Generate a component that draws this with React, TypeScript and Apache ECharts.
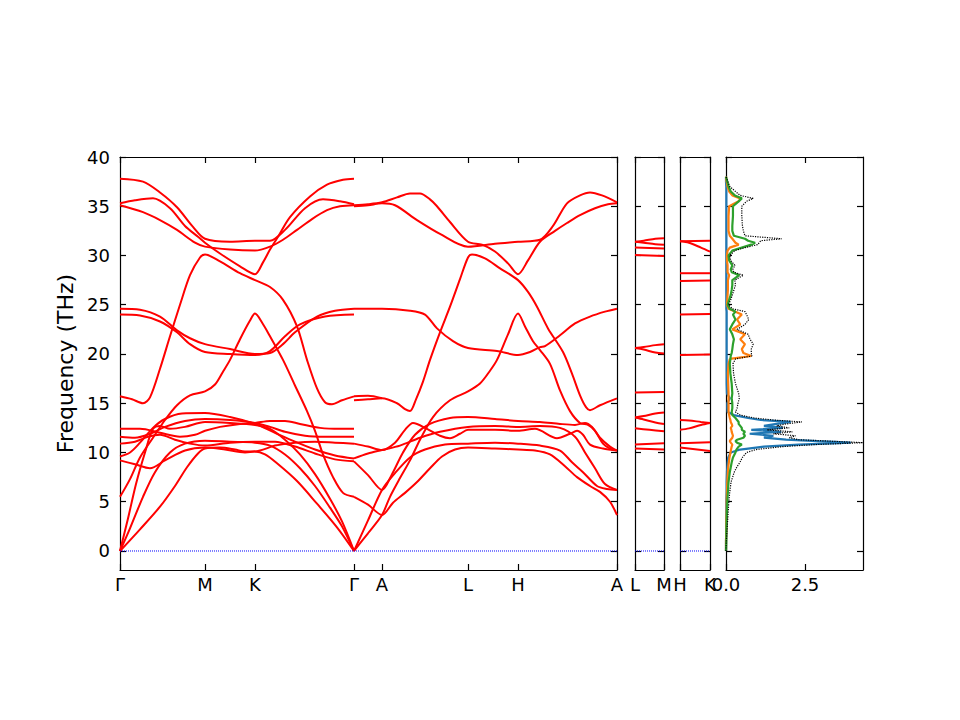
import React, { useEffect, useRef } from "react";
import * as echarts from "echarts";

// ---- tick positions / labels ----
const mainTickPos = [0, 85, 135, 234, 262, 348, 398, 497];
const mainTickLabels = ["Γ", "M", "K", "Γ", "A", "L", "H", "A"];
const lmTickPos = [0, 1];
const lmTickLabels = ["L", "M"];
const hkTickPos = [0, 1];
const hkTickLabels = ["H", "K"];
const freqTicks = [0, 5, 10, 15, 20, 25, 30, 35, 40];
const dosTicks = [0, 2.5];

// ---- bands: Γ-M-K-Γ (k = 0..234) ----
const bandsGMKG: number[][][] = [
  [[0,37.8],[23,37.5],[40,36.4],[57,34.9],[73,32.9],[85,31.7],[110,31.4],[135,31.5],[150,31.5],[165,32.6],[185,34.8],[203,35.7],[220,35.5],[234,35.2]],
  [[0,35.3],[15,35.6],[33,35.8],[50,34.8],[65,33.0],[78,31.9],[85,31.3],[100,30.2],[120,28.9],[135,28.1],[143,29.3],[150,30.6],[158,31.9],[170,33.9],[190,36.0],[207,37.2],[223,37.7],[234,37.8]],
  [[0,35.1],[23,34.4],[40,33.6],[57,32.6],[75,31.3],[85,30.9],[110,30.6],[135,30.5],[150,30.9],[163,31.6],[177,32.6],[192,33.7],[207,34.6],[220,35.0],[234,35.1]],
  [[0,24.6],[20,24.5],[40,23.8],[57,22.4],[70,21.6],[85,21.0],[110,20.5],[135,20.0],[150,20.1],[163,21.0],[175,22.2],[197,23.8],[215,24.4],[234,24.6]],
  [[0,24.0],[20,23.9],[40,23.3],[57,22.2],[70,21.0],[85,20.2],[110,20.0],[135,19.9],[150,20.3],[165,21.8],[180,23.0],[205,23.8],[234,24.0]],
  [[0,15.7],[12,15.4],[23,15.0],[30,15.6],[40,18.5],[50,21.8],[60,25.0],[70,28.0],[80,29.8],[85,30.1],[100,29.4],[120,28.2],[135,27.5],[150,26.8],[163,25.5],[177,22.8],[187,19.4],[197,16.5],[205,15.1],[212,14.9],[222,15.3],[234,15.7]],
  [[0,5.5],[10,7.3],[20,9.5],[33,11.5],[45,13.3],[57,14.8],[70,15.8],[85,16.2],[95,16.9],[103,18.2],[110,19.4],[120,21.5],[130,23.4],[135,24.1],[142,23.2],[150,21.8],[163,19.4],[175,16.8],[187,14.2],[195,12.2],[203,9.8],[213,7.5],[223,5.9],[234,5.5]],
  [[0,12.4],[20,12.4],[40,12.0],[60,11.6],[75,11.8],[85,12.2],[100,12.6],[120,12.9],[135,13.0],[150,13.2],[165,13.2],[180,12.9],[200,12.5],[220,12.4],[234,12.4]],
  [[0,11.6],[15,11.5],[30,11.9],[45,12.6],[65,13.2],[85,13.4],[110,13.3],[135,13.0],[150,12.6],[165,12.1],[185,11.7],[205,11.6],[234,11.6]],
  [[0,9.6],[10,10.0],[20,11.0],[33,12.5],[45,13.4],[62,13.95],[85,14.0],[110,13.6],[135,12.9],[155,12.0],[175,11.1],[195,10.3],[215,9.7],[234,9.4]],
  [[0,10.9],[15,11.1],[28,11.6],[40,11.8],[55,11.3],[70,10.9],[85,10.7],[110,11.0],[135,11.1],[155,11.1],[175,10.6],[195,9.9],[215,9.3],[234,9.1]],
  [[0,9.2],[15,8.8],[30,8.4],[45,9.2],[65,10.2],[85,10.5],[105,10.3],[125,10.0],[140,10.2],[155,10.7],[175,11.0],[195,11.1],[215,11.0],[234,10.9]],
  [[0,0],[20,2.2],[40,4.5],[55,6.6],[67,8.5],[78,9.9],[85,10.4],[100,10.5],[115,10.3],[125,10.1],[135,10.1],[145,9.8],[157,8.9],[177,7.1],[197,4.8],[217,2.4],[234,0]],
  [[0,0],[10,2.3],[23,5.5],[35,8.0],[50,10.0],[65,10.9],[85,11.2],[110,11.1],[135,11.0],[150,10.7],[165,9.8],[180,8.4],[195,6.6],[210,4.4],[222,2.5],[234,0]],
  [[0,0],[8,3.3],[16,6.8],[25,10.0],[33,12.4],[40,12.7],[50,12.4],[65,12.6],[85,13.1],[110,13.0],[135,12.8],[150,12.4],[165,11.3],[180,9.8],[195,7.8],[210,5.3],[222,3.0],[234,0]],
];

// ---- bands: Γ-A-L-H-A (k = 234..497) ----
const bandsGALHA: number[][][] = [
  [[234,35.1],[248,35.2],[262,35.4],[277,35.9],[290,36.3],[300,36.3],[310,35.7],[317,35.0],[330,33.4],[348,31.4],[362,31.1],[375,30.4],[388,29.2],[398,28.1],[408,29.5],[420,31.4],[435,32.5],[447,33.3],[460,34.1],[475,34.8],[488,35.2],[497,35.3]],
  [[234,35.0],[248,35.1],[262,35.3],[275,35.1],[297,33.6],[320,32.2],[348,30.9],[375,31.2],[398,31.4],[420,31.6],[433,33.0],[447,35.3],[460,36.1],[470,36.4],[482,36.1],[497,35.4]],
  [[234,24.6],[262,24.6],[290,24.4],[305,24.0],[317,22.6],[333,21.3],[348,20.6],[377,20.3],[398,19.9],[410,20.2],[420,20.7],[425,20.8],[440,21.9],[455,23.1],[470,23.8],[485,24.3],[497,24.6]],
  [[234,15.3],[248,15.4],[262,15.5],[277,15.0],[285,14.4],[290,14.2],[296,15.4],[303,17.2],[310,19.4],[320,22.2],[330,24.8],[340,27.6],[348,29.8],[352,30.1],[365,29.7],[380,28.7],[398,27.5],[408,26.3],[417,24.8],[428,22.6],[443,20.2],[452,18.0],[460,15.8],[466,14.6],[470,14.3],[480,14.8],[497,15.5]],
  [[234,15.7],[248,15.75],[262,15.5]],
  [[234,0],[248,1.8],[262,3.65],[270,5.5],[280,7.4],[290,9.2],[300,11.3],[313,13.6],[330,15.3],[348,16.2],[360,17.0],[370,18.3],[377,19.4],[388,22.0],[398,24.1],[405,22.8],[413,21.3],[420,20.4],[430,19.0],[440,16.3],[450,14.2],[460,13.0],[468,12.8],[475,12.2],[483,10.9],[490,10.4],[497,10.2]],
  [[234,5.5],[248,4.7],[262,3.65],[273,4.9],[285,5.9],[297,7.0],[310,8.4],[322,9.6],[335,10.3],[348,10.5],[375,10.4],[398,10.3],[415,10.2],[430,9.8],[445,8.6],[457,7.5],[470,6.6],[480,6.0],[490,5.0],[497,3.65]],
  [[234,0],[248,3.1],[262,6.2],[275,7.9],[290,9.5],[305,10.3],[325,10.8],[348,10.9],[375,11.0],[398,10.9],[420,10.7],[440,10.2],[452,9.0],[463,8.0],[477,6.6],[487,6.3],[497,6.2]],
  [[234,9.1],[248,7.7],[262,6.2],[272,7.8],[283,10.0],[295,11.8],[310,12.9],[330,13.5],[348,13.6],[375,13.4],[398,13.2],[420,13.1],[440,12.9],[455,12.8],[465,13.0],[472,12.6],[480,11.5],[490,10.6],[497,10.2]],
  [[234,10.9],[248,10.6],[262,10.25],[275,11.0],[285,12.3],[293,13.0],[307,12.4],[320,11.7],[330,11.45],[340,11.9],[348,12.3],[375,12.3],[398,12.2],[415,12.4],[437,11.45],[450,11.9],[457,12.2],[463,11.8],[470,10.8],[483,10.4],[497,10.2]],
  [[234,9.4],[248,9.9],[262,10.25],[280,10.7],[300,11.5],[320,12.1],[348,12.6],[375,12.7],[398,12.6],[420,12.7],[440,12.5],[455,11.6],[465,10.0],[475,8.4],[485,6.8],[497,6.2]],
];

// ---- bands: L-M (0..1) ----
const bandsLM: number[][][] = [
  [[0,31.4],[0.3,31.5],[0.7,31.7],[1,31.75]],
  [[0,31.4],[0.3,31.3],[0.7,31.15],[1,31.1]],
  [[0,30.8],[1,30.7]],
  [[0,30.05],[1,29.95]],
  [[0,20.6],[0.3,20.7],[0.7,20.9],[1,21.0]],
  [[0,20.6],[0.3,20.45],[0.7,20.15],[1,20.05]],
  [[0,16.1],[1,16.15]],
  [[0,13.55],[0.3,13.7],[0.7,13.95],[1,14.05]],
  [[0,13.55],[0.3,13.35],[0.7,13.05],[1,12.9]],
  [[0,12.45],[0.5,12.3],[1,12.15]],
  [[0,10.8],[1,10.95]],
  [[0,10.4],[1,10.3]],
];

// ---- bands: H-K (0..1) ----
const bandsHK: number[][][] = [
  [[0,31.45],[1,31.5]],
  [[0,31.45],[0.3,31.3],[0.7,30.8],[1,30.4]],
  [[0,28.2],[1,28.2]],
  [[0,27.4],[1,27.45]],
  [[0,24.0],[1,24.05]],
  [[0,19.9],[1,19.95]],
  [[0,13.3],[0.3,13.25],[0.7,13.1],[1,13.0]],
  [[0,12.3],[0.3,12.45],[0.7,12.8],[1,13.0]],
  [[0,10.95],[1,11.05]],
  [[0,10.5],[1,10.15]],
];

// ---- phonon DOS ----
const dosFreq = [0,1,2,3,4,5,6,7,8,8.5,9,9.5,10,10.3,10.6,10.8,11,11.15,11.3,11.5,11.7,11.9,12.1,12.3,12.5,12.7,12.9,13.1,13.3,13.5,13.8,14.1,14.5,15,15.5,16,17,18,19,19.5,19.8,20.1,20.5,21,21.5,22,22.5,23,23.5,24,24.3,24.6,25,25.5,26,26.5,27,27.5,28,28.3,28.6,29,29.5,30,30.5,30.8,31.1,31.3,31.5,31.7,32,32.5,33,34,35,35.5,35.8,36.1,36.5,37,37.5,38];
const dosTotal = [0,0.01,0.03,0.05,0.07,0.09,0.12,0.16,0.26,0.34,0.44,0.52,0.65,0.95,1.8,2.8,4.33,3.3,2.3,2.0,2.2,1.5,2.1,1.3,2.0,1.6,1.9,2.4,1.5,0.9,0.45,0.3,0.35,0.38,0.42,0.4,0.3,0.24,0.22,0.3,0.82,0.8,0.8,0.86,0.76,0.7,0.35,0.6,0.72,0.65,0.6,0.2,0.08,0.15,0.2,0.25,0.3,0.28,0.55,0.25,0.22,0.28,0.15,0.12,0.28,0.6,1.0,1.05,1.1,1.76,0.6,0.55,0.52,0.5,0.5,0.65,0.86,0.45,0.3,0.12,0.06,0];
const dosBlue = [0,0,0.01,0.01,0.01,0.01,0.02,0.02,0.03,0.04,0.05,0.07,0.15,0.45,1.2,2.3,3.95,2.9,1.9,1.2,1.5,0.75,1.75,0.8,1.8,1.2,1.6,2.05,1.1,0.7,0.25,0.05,0.04,0.04,0.12,0.03,0.02,0.02,0.02,0.02,0.02,0.02,0.02,0.02,0.02,0.02,0.02,0.02,0.02,0.02,0.02,0.01,0.01,0.01,0.01,0.01,0.01,0.01,0.01,0.01,0.01,0.01,0.01,0.01,0.01,0.01,0.01,0.01,0.01,0.01,0.01,0.01,0.01,0.01,0.01,0.01,0.01,0.01,0.01,0.01,0,0];
const dosOrange = [0,0,0.01,0.01,0.02,0.02,0.03,0.04,0.06,0.07,0.09,0.11,0.14,0.16,0.18,0.2,0.15,0.12,0.15,0.2,0.22,0.2,0.18,0.17,0.15,0.2,0.18,0.15,0.14,0.12,0.1,0.08,0.08,0.08,0.08,0.08,0.07,0.06,0.08,0.12,0.8,0.55,0.5,0.6,0.45,0.6,0.2,0.45,0.35,0.5,0.3,0.08,0.03,0.04,0.05,0.06,0.06,0.06,0.1,0.05,0.05,0.05,0.03,0.03,0.05,0.12,0.4,0.3,0.25,0.2,0.12,0.08,0.08,0.08,0.1,0.4,0.45,0.2,0.1,0.05,0.02,0];
const dosGreen = [0,0.01,0.01,0.02,0.03,0.04,0.06,0.08,0.12,0.15,0.18,0.22,0.3,0.33,0.4,0.5,0.35,0.3,0.35,0.55,0.6,0.55,0.6,0.5,0.5,0.45,0.4,0.4,0.35,0.3,0.2,0.18,0.2,0.2,0.18,0.2,0.18,0.14,0.12,0.14,0.15,0.18,0.2,0.22,0.25,0.2,0.12,0.2,0.3,0.22,0.3,0.12,0.05,0.1,0.15,0.18,0.2,0.2,0.42,0.18,0.15,0.2,0.1,0.08,0.2,0.5,0.8,0.92,0.7,0.6,0.25,0.2,0.2,0.22,0.22,0.4,0.5,0.28,0.15,0.08,0.04,0];

const FONT = "DejaVu Sans";
const TICK_FS = 18;
const YMIN = -1.93;
const YMAX = 40;

export default function App() {
  const ref = useRef<HTMLDivElement>(null);
  useEffect(() => {
    if (!ref.current) return;
    const chart = echarts.init(ref.current, undefined, { renderer: "svg" });

    const grids = [
      { left: 120, top: 157, width: 497, height: 413 },
      { left: 635, top: 157, width: 29, height: 413 },
      { left: 680, top: 157, width: 30, height: 413 },
      { left: 726, top: 157, width: 137, height: 413 },
    ];
    const xDefs = [
      { min: 0, max: 497, pos: mainTickPos, fmt: (v: number) => mainTickLabels[mainTickPos.indexOf(v)] ?? "" },
      { min: 0, max: 1, pos: lmTickPos, fmt: (v: number) => lmTickLabels[lmTickPos.indexOf(v)] ?? "" },
      { min: 0, max: 1, pos: hkTickPos, fmt: (v: number) => hkTickLabels[hkTickPos.indexOf(v)] ?? "" },
      { min: 0, max: 4.335, pos: dosTicks, fmt: (v: number) => v.toFixed(1) },
    ];
    const lineStyle = { color: "#000", width: 1.2 };
    const xAxes: any[] = [];
    ["bottom", "top"].forEach((position) => {
      xDefs.forEach((d, g) => {
        xAxes.push({
          type: "value",
          gridIndex: g,
          position,
          min: d.min,
          max: d.max,
          axisLine: { show: true, onZero: false, lineStyle },
          axisTick: { show: true, inside: true, length: 6, customValues: d.pos, lineStyle },
          axisLabel: {
            show: position === "bottom",
            customValues: d.pos,
            formatter: d.fmt,
            margin: 5,
            fontFamily: FONT,
            fontSize: TICK_FS,
            color: "#000",
            showMinLabel: true,
            showMaxLabel: true,
          },
          splitLine: { show: false },
        });
      });
    });
    const yAxes: any[] = [];
    ["left", "right"].forEach((position) => {
      grids.forEach((_, g) => {
        const isMain = g === 0 && position === "left";
        yAxes.push({
          type: "value",
          gridIndex: g,
          position,
          min: YMIN,
          max: YMAX,
          name: isMain ? "Frequency (THz)" : "",
          nameLocation: "middle",
          nameGap: 42,
          nameTextStyle: { fontFamily: FONT, fontSize: 22, color: "#000" },
          axisLine: { show: true, onZero: false, lineStyle },
          axisTick: { show: true, inside: true, length: 6, customValues: freqTicks, lineStyle },
          axisLabel: {
            show: isMain,
            customValues: freqTicks,
            formatter: (v: number) => String(v),
            margin: 10,
            fontFamily: FONT,
            fontSize: TICK_FS,
            color: "#000",
          },
          splitLine: { show: false },
        });
      });
    });

    const series: any[] = [];
    const addBands = (bands: number[][][], g: number) => {
      bands.forEach((b) => {
        series.push({
          type: "line",
          xAxisIndex: g,
          yAxisIndex: g,
          data: b,
          smooth: 0.3,
          symbol: "none",
          silent: true,
          lineStyle: { color: "#ff0000", width: 2 },
          z: 2,
        });
      });
    };
    addBands(bandsGMKG, 0);
    addBands(bandsGALHA, 0);
    addBands(bandsLM, 1);
    addBands(bandsHK, 2);
    [0, 1, 2].forEach((g) => {
      series.push({
        type: "line",
        xAxisIndex: g,
        yAxisIndex: g,
        data: [[xDefs[g].min, 0], [xDefs[g].max, 0]],
        symbol: "none",
        silent: true,
        lineStyle: { color: "#0000ff", width: 1, type: "dotted" },
        z: 3,
      });
    });
    const dosLine = (vals: number[], color: string, width: number, type: string, z: number) => ({
      type: "line",
      xAxisIndex: 3,
      yAxisIndex: 3,
      data: dosFreq.map((f, i) => [vals[i], f]),
      symbol: "none",
      silent: true,
      lineStyle: { color, width, type },
      z,
    });
    series.push(dosLine(dosBlue, "#1f77b4", 2.2, "solid", 2));
    series.push(dosLine(dosOrange, "#ff7f0e", 2.2, "solid", 3));
    series.push(dosLine(dosGreen, "#2ca02c", 2.2, "solid", 4));
    series.push(dosLine(dosTotal, "#000000", 1.2, "dotted", 5));

    chart.setOption({
      animation: false,
      backgroundColor: "#ffffff",
      grid: grids,
      xAxis: xAxes,
      yAxis: yAxes,
      series,
    });
    return () => chart.dispose();
  }, []);
  return (
    <div
      ref={ref}
      style={{ position: "fixed", left: 0, top: 0, width: 960, height: 720, background: "#fff" }}
    />
  );
}
